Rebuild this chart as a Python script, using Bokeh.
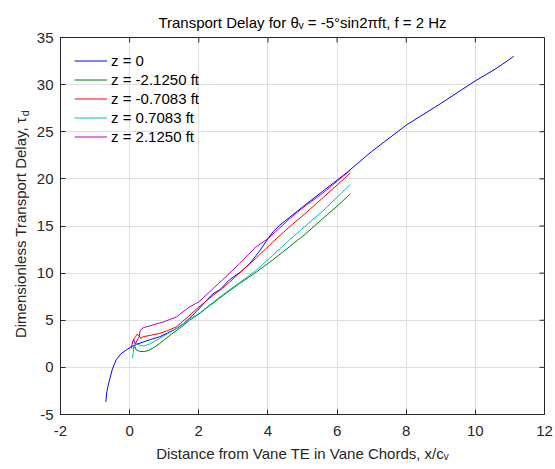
import math
from bokeh.plotting import figure
from bokeh.layouts import row
from bokeh.models import Range1d, Legend, LegendItem, FixedTicker
from bokeh.core.properties import value
from bokeh.embed import file_html
from bokeh.resources import INLINE

# ---- data ----
x_z0 = [-0.69, -0.66, -0.62, -0.58, -0.50, -0.39, -0.25, -0.10, 0.05, 0.20, 0.40, 0.60, 0.87, 1.10,
        1.35, 1.55, 1.73, 2.0, 2.2, 2.35, 2.45, 2.6, 2.89, 3.2, 3.47, 3.75, 4.0, 4.15, 4.33, 4.62,
        5.1, 5.59, 6.26, 7.0, 8.0, 9.0, 10.0, 10.6, 11.11]
y_z0 = [-3.67, -2.6, -1.9, -1.3, -0.2, 0.8, 1.45, 1.84, 2.2, 2.45, 2.7, 2.95, 3.25, 3.65,
        4.12, 4.6, 5.2, 6.2, 7.0, 7.6, 7.9, 8.2, 9.3, 10.1, 11.0, 12.3, 13.65, 14.4, 15.05, 15.9,
        17.3, 18.7, 20.6, 22.9, 25.7, 28.0, 30.4, 31.7, 33.0]

x_zm2125 = [0.10, 0.14, 0.19, 0.29, 0.39, 0.53, 0.70, 0.87, 1.2, 1.5, 1.73, 2.0, 2.69, 3.18, 3.66,
            4.14, 4.62, 5.1, 5.59, 6.0, 6.38]
y_zm2125 = [1.9, 2.3, 1.85, 1.7, 1.67, 1.77, 2.1, 2.54, 3.5, 4.3, 5.0, 5.65, 7.6, 8.9, 10.1,
            11.4, 12.8, 14.2, 15.8, 17.1, 18.4]

x_zm0708 = [0.08, 0.12, 0.17, 0.21, 0.27, 0.32, 0.39, 0.60, 0.87, 1.10, 1.35, 1.70, 2.0, 2.4, 2.69,
            3.18, 3.66, 4.14, 4.62, 5.1, 5.59, 6.38]
y_zm0708 = [2.5, 3.0, 3.25, 3.5, 3.4, 3.07, 3.25, 3.4, 3.6, 3.9, 4.3, 5.4, 6.4, 7.6, 8.4,
            10.0, 11.6, 13.3, 14.9, 16.4, 18.0, 20.6]

x_zp0708 = [0.08, 0.10, 0.12, 0.19, 0.29, 0.39, 0.58, 0.87, 1.2, 1.5, 1.73, 2.0, 2.69, 3.18, 3.66,
            4.14, 4.62, 5.1, 5.59, 6.38]
y_zp0708 = [0.96, 1.5, 2.0, 2.54, 2.37, 2.26, 2.47, 3.07, 3.8, 4.5, 5.1, 5.7, 7.7, 9.0, 10.3,
            11.9, 13.5, 15.05, 16.6, 19.4]

x_zp2125 = [0.05, 0.08, 0.12, 0.16, 0.22, 0.27, 0.31, 0.39, 0.67, 1.0, 1.35, 1.73, 2.0, 2.69, 3.18,
            3.66, 4.0, 4.62, 5.1, 5.59, 6.38]
y_zp2125 = [2.0, 2.7, 2.96, 2.47, 2.9, 3.2, 3.95, 4.2, 4.5, 4.85, 5.35, 6.4, 6.95, 9.3, 11.0,
            12.8, 13.65, 15.75, 17.2, 18.5, 20.9]

series_labels = ["z = 0", "z = -2.1250 ft", "z = -0.7083 ft", "z = 0.7083 ft", "z = 2.1250 ft"]
series_colors = ["#0000FF", "#008000", "#FF0000", "#00BFBF", "#BF00BF"]
x_ticks = [-2, 0, 2, 4, 6, 8, 10, 12]
y_ticks = [-5, 0, 5, 10, 15, 20, 25, 30, 35]

title_text = "Transport Delay for \u03b8\u1d65 = -5\u00b0sin2\u03c0ft, f = 2 Hz"
xlabel_text = "Distance from Vane TE in Vane Chords, x/c\u1d65"
ylabel_main = "Dimensionless Transport Delay, \u03c4"
ylabel_sub = "d"

FONT = "Liberation Sans"
TXT = "#262626"
X0, X1, Y0, Y1 = -2, 12, -5, 35
W, H = 555, 469
LAB_W = 32                      # strip holding the y-axis title
FRAME_W, FRAME_H = 484, 377
B_LEFT, B_RIGHT, B_TOP, B_BOTTOM = 60 - LAB_W, 11, 37, 55
xu = (X1 - X0) / FRAME_W
yu = (Y1 - Y0) / FRAME_H

# ---- strip with the rotated y-axis title (pixel coordinates) ----
lab = figure(width=LAB_W, height=H, output_backend="svg", toolbar_location=None,
             x_range=Range1d(0, LAB_W), y_range=Range1d(0, H),
             x_axis_location=None, y_axis_location=None, min_border=0)
lab.grid.visible = False
lab.outline_line_color = None
lab.background_fill_color = "white"
lab.border_fill_color = "white"
anchor_x, anchor_y = 20, H - 99
lab.text(x=[anchor_x], y=[anchor_y], text=[ylabel_main], angle=math.pi / 2,
         text_align="right", text_baseline="middle", text_font=value(FONT),
         text_font_size="15px", text_color=TXT)
lab.text(x=[anchor_x + 4.5], y=[anchor_y + 1], text=[ylabel_sub], angle=math.pi / 2,
         text_align="left", text_baseline="middle", text_font=value(FONT),
         text_font_size="11px", text_color=TXT)

# ---- main chart ----
p = figure(width=W - LAB_W, height=H, output_backend="svg", toolbar_location=None,
           x_range=Range1d(X0, X1), y_range=Range1d(Y0, Y1),
           min_border_left=B_LEFT, min_border_right=B_RIGHT,
           min_border_top=B_TOP, min_border_bottom=B_BOTTOM)
p.background_fill_color = "white"
p.border_fill_color = "white"
p.outline_line_color = TXT
p.outline_line_width = 1

p.title.text = title_text
p.title.align = "center"
p.title.text_font = FONT
p.title.text_font_size = "15px"
p.title.text_font_style = "normal"
p.title.text_color = "#000000"
p.title.standoff = 14

for ax in (p.xaxis[0], p.yaxis[0]):
    ax.major_label_text_font = FONT
    ax.major_label_text_font_size = "15px"
    ax.major_label_text_color = TXT
    ax.axis_line_color = TXT
    ax.major_tick_line_color = TXT
    ax.major_tick_in = 5
    ax.major_tick_out = 0
    ax.minor_tick_line_color = None
    ax.axis_label_text_font = FONT
    ax.axis_label_text_font_size = "15px"
    ax.axis_label_text_font_style = "normal"
    ax.axis_label_text_color = TXT

p.xaxis[0].ticker = FixedTicker(ticks=x_ticks)
p.yaxis[0].ticker = FixedTicker(ticks=y_ticks)
p.xaxis[0].major_label_overrides = {t: str(t) for t in x_ticks}
p.yaxis[0].major_label_overrides = {t: str(t) for t in y_ticks}
p.xaxis[0].major_label_standoff = 11
p.yaxis[0].major_label_standoff = 7
p.xaxis[0].axis_label = xlabel_text
p.xaxis[0].axis_label_standoff = 6

# mirrored ticks on the top and right edges of the box
tick_len = 5
p.segment(x0=x_ticks, y0=[Y1] * len(x_ticks), x1=x_ticks, y1=[Y1 - tick_len * yu] * len(x_ticks),
          line_color=TXT, line_width=1)
p.segment(x0=[X1] * len(y_ticks), y0=y_ticks, x1=[X1 - tick_len * xu] * len(y_ticks), y1=y_ticks,
          line_color=TXT, line_width=1)

p.xgrid.ticker = FixedTicker(ticks=x_ticks)
p.ygrid.ticker = FixedTicker(ticks=y_ticks)
p.grid.grid_line_color = "#DFDFDF"
p.grid.grid_line_width = 1

xs = [x_z0, x_zm2125, x_zm0708, x_zp0708, x_zp2125]
ys = [y_z0, y_zm2125, y_zm0708, y_zp0708, y_zp2125]
items = []
for xv, yv, lab_txt, col in zip(xs, ys, series_labels, series_colors):
    r = p.line(xv, yv, line_color=col, line_width=1)
    items.append(LegendItem(label=lab_txt, renderers=[r]))

legend = Legend(items=items, location="top_left")
legend.label_text_font = FONT
legend.label_text_font_size = "15px"
legend.label_text_color = "#000000"
legend.border_line_color = None
legend.background_fill_alpha = 0
legend.glyph_width = 33
legend.glyph_height = 19
legend.label_height = 19
legend.label_standoff = 4
legend.spacing = 0
legend.padding = 6
legend.margin = 14
p.add_layout(legend)

layout = row(lab, p, spacing=0)
open("out.html", "w").write(file_html(layout, INLINE))
